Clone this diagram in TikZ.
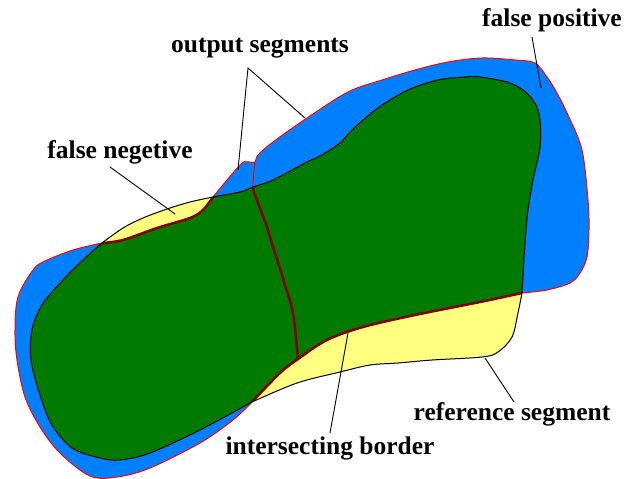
\documentclass[tikz,border=0pt]{standalone}
\usepackage{fontspec}
\setmainfont{Liberation Serif}
\definecolor{outblue}{HTML}{0080FF}
\definecolor{refyellow}{HTML}{FFFF80}
\definecolor{intgreen}{HTML}{007A00}
\definecolor{outred}{HTML}{FF0000}
\definecolor{bordred}{HTML}{800000}
% output boundary segments
\def\Oone{(102,243) (123,240) (157,228) (190,218) (203,210) (213,197)}
\def\Otwo{(213,197) (240,165) (247,162) (255,162) (258,155) (273,142) (307,118) (348,92) (382,80) (415,70) (448,62) (482,58) (515,60) (535,63) (547,77) (557,93) (568,115) (582,150) (588,200) (589,230) (587,257) (580,273) (570,283) (547,290) (522,293)}
\def\Othree{(522,293) (480,302) (415,315) (363,327) (327,340) (298,359) (280,373) (252,402)}
\def\Ofour{(252,402) (233,420) (200,443) (150,468) (117,477) (90,476) (60,453) (40,427) (25,397) (17,360) (15,330) (18,297) (33,270) (45,261) (73,250) (102,243)}
% reference boundary segments
\def\Rone{(102,243) (123,228) (143,218) (167,209) (190,202) (213,197)}
\def\Rtwo{(213,197) (240,192) (253,187) (273,180) (307,162) (320,156) (340,143) (352,130) (378,108) (408,90) (438,80) (465,77) (480,77) (507,82) (523,90) (535,103) (540,120) (540,147) (533,180) (528,210) (525,243) (522,293)}
\def\Rthree{(522,293) (518,313) (512,337) (498,352) (482,357) (432,360) (398,363) (370,365) (340,372) (297,383) (252,402)}
\def\Rfour{(252,402) (200,430) (150,453) (120,460) (100,458) (72,448) (52,425) (40,395) (31,360) (32,330) (42,305) (63,280) (85,258) (102,243)}
\def\Divd{(255,162) (253,187) (258,203) (267,227) (273,247) (278,262) (285,285) (293,313) (298,358)}
\edef\outpath{plot[smooth,tension=0.55] coordinates {\Oone} -- plot[smooth,tension=0.55] coordinates {\Otwo} -- plot[smooth,tension=0.55] coordinates {\Othree} -- plot[smooth,tension=0.55] coordinates {\Ofour} -- cycle}
\edef\refpath{plot[smooth,tension=0.55] coordinates {\Rone} -- plot[smooth,tension=0.55] coordinates {\Rtwo} -- plot[smooth,tension=0.55] coordinates {\Rthree} -- plot[smooth,tension=0.55] coordinates {\Rfour} -- cycle}
\edef\divpath{plot[smooth,tension=0.55] coordinates {\Divd}}
\begin{document}
\begin{tikzpicture}[x=1pt,y=-1pt,
  lbl/.style={inner sep=0pt, font=\fontsize{25.5}{30}\selectfont\bfseries},
  leader/.style={draw=black, line width=0.9pt}]
\useasboundingbox[fill=white] (0,0) rectangle (635,479);
\fill[outblue] \outpath;
\fill[refyellow] \refpath;
\begin{scope}
  \clip \outpath;
  \fill[intgreen] \refpath;
\end{scope}
\draw[outred, line width=1pt] \outpath;
\draw[outred, line width=1pt] \divpath;
\begin{scope}
  \clip \refpath;
  \draw[bordred, line width=2.5pt] \outpath;
  \draw[bordred, line width=2.5pt] \divpath;
\end{scope}
\draw[black, line width=1pt] \refpath;
% labels
\node[lbl] (los) at (260,48) {output segments};
\node[lbl] (lfp) at (552,20) {false positive};
\node[lbl] (lfn) at (120,152) {false negetive};
\node[lbl] (lrs) at (512,414) {reference segment};
\node[lbl] (lib) at (330,448) {intersecting border};
% leader ends
\coordinate (osA) at (248,68);
\coordinate (os1) at (238,170);
\coordinate (os2) at (305,118);
\coordinate (fpA) at (532,37);
\coordinate (fp1) at (541,88);
\coordinate (fnA) at (110,167);
\coordinate (fn1) at (175,214);
\coordinate (rsA) at (514,402);
\coordinate (rs1) at (485,358);
\coordinate (ibA) at (330,433);
\coordinate (ib1) at (348,333);
\draw[leader] (os1) -- (osA) -- (os2);
\draw[leader] (fpA) -- (fp1);
\draw[leader] (fnA) -- (fn1);
\draw[leader] (rsA) -- (rs1);
\draw[leader] (ibA) -- (ib1);
\end{tikzpicture}
\end{document}
